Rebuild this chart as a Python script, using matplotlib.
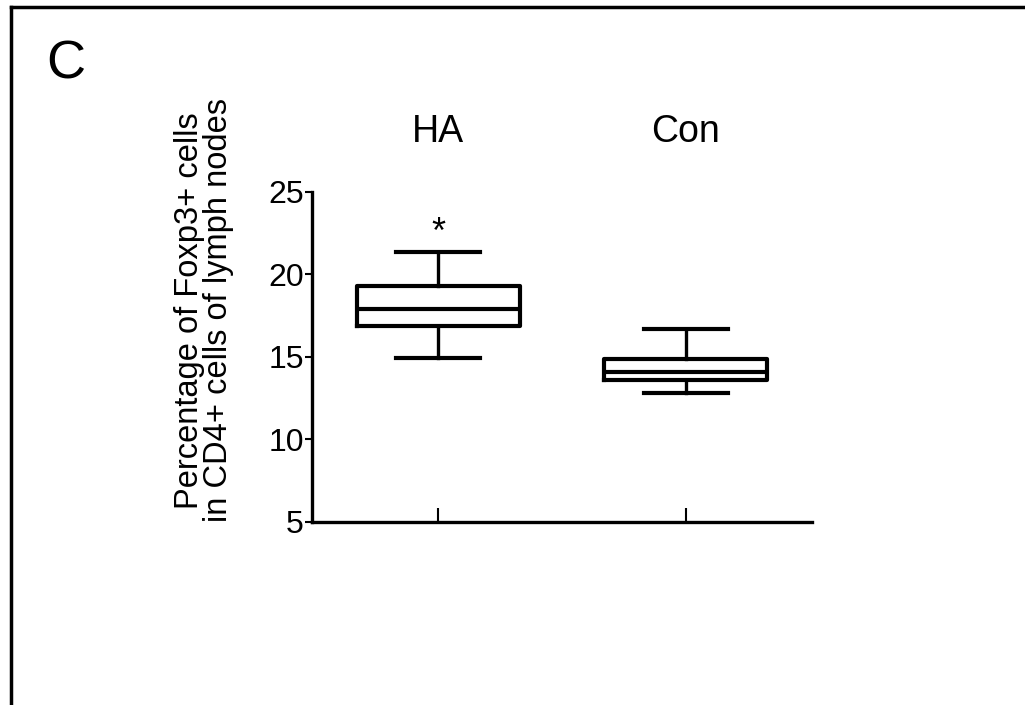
import matplotlib
matplotlib.use('Agg')
import matplotlib.pyplot as plt
from matplotlib.lines import Line2D
from matplotlib.transforms import blended_transform_factory

plt.rcParams['font.family'] = ['Liberation Sans', 'DejaVu Sans']

groups = ['HA', 'Con']
whisker_low = [14.9, 12.8]
box_q1 = [16.85, 13.6]
box_med = [17.9, 14.05]
box_q3 = [19.3, 14.85]
whisker_high = [21.35, 16.7]
y_ticks = [5, 10, 15, 20, 25]

fig = plt.figure(figsize=(10.25, 7.05), dpi=100)
ax = fig.add_axes([0.3044, 0.26, 0.4878, 0.468])

stats = []
for i, g in enumerate(groups):
    stats.append(dict(label=g, whislo=whisker_low[i], q1=box_q1[i], med=box_med[i],
                      q3=box_q3[i], whishi=whisker_high[i]))

lw = 3.0
ax.bxp(stats, positions=[1, 2], widths=0.66, showfliers=False,
       boxprops=dict(color='black', linewidth=lw),
       medianprops=dict(color='black', linewidth=lw),
       whiskerprops=dict(color='black', linewidth=2.4),
       capprops=dict(color='black', linewidth=lw), capwidths=0.34)

ax.set_xlim(0.49, 2.51)
ax.set_ylim(5, 25)
ax.set_yticks(y_ticks)
ax.set_xticks([1, 2])
ax.set_xticklabels([])
ax.tick_params(axis='y', direction='out', length=5, width=1.5, labelsize=23, pad=1)
ax.tick_params(axis='x', direction='in', length=10, width=1.5)
for s in ['top', 'right']:
    ax.spines[s].set_visible(False)
for s in ['left', 'bottom']:
    ax.spines[s].set_linewidth(2.4)

trans = blended_transform_factory(ax.transData, ax.transAxes)
for i, g in enumerate(groups):
    ax.text(i + 1, 1.18, g, transform=trans, ha='center', va='center', fontsize=27)

ax.text(1, 22.5, '*', ha='center', va='center', fontsize=26)

fig.text(0.199, 0.56, 'Percentage of Foxp3+ cells\nin CD4+ cells of lymph nodes',
         rotation=90, ha='center', va='center', fontsize=23.5, linespacing=0.9)

fig.text(0.064, 0.908, 'C', ha='center', va='center', fontsize=39)

# panel frame (only top/left visible)
fig.add_artist(Line2D([11 / 1025, 11 / 1025], [0, 1 - 7 / 705], color='black', linewidth=2.5))
fig.add_artist(Line2D([11 / 1025, 1], [1 - 7 / 705, 1 - 7 / 705], color='black', linewidth=2.5))

fig.savefig('out.png', dpi=100)
